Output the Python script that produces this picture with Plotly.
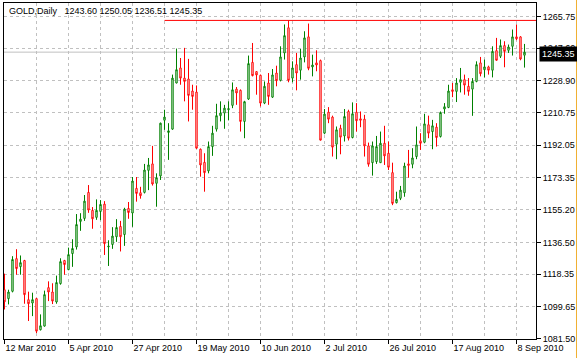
import pandas as pd
import plotly.graph_objects as go

# ---- data (GOLD, Daily) ----
start_date = "2010-03-12"
opens = [1109.4, 1104.3, 1108.5, 1127.2, 1122.6, 1126.1, 1103.7, 1101.8, 1104.3, 1086.5,
         1088.6, 1110.6, 1108.1, 1102.4, 1112.9, 1126.1, 1120.9, 1130.1, 1133.9, 1148.5,
         1150.2, 1165.1, 1154.8, 1150.8, 1154.2, 1158.4, 1133.9, 1135.3, 1139.7, 1145.6,
         1141.0, 1155.9, 1153.3, 1167.4, 1164.9, 1165.1, 1177.7, 1181.4, 1170.3, 1174.5,
         1206.4, 1199.4, 1201.3, 1227.7, 1236.3, 1230.5, 1230.0, 1223.1, 1222.5, 1189.8,
         1182.3, 1177.4, 1191.3, 1201.3, 1209.0, 1210.5, 1212.4, 1214.9, 1224.2, 1223.5,
         1205.7, 1218.5, 1239.5, 1234.2, 1232.1, 1216.2, 1227.7, 1219.6, 1233.4, 1229.2,
         1244.9, 1259.3, 1230.5, 1238.2, 1235.0, 1242.6, 1254.1, 1236.9, 1239.2, 1240.5,
         1199.0, 1211.0, 1208.2, 1192.7, 1201.8, 1197.4, 1211.4, 1196.5, 1211.0, 1207.2,
         1207.0, 1191.7, 1182.1, 1182.7, 1182.1, 1193.2, 1187.5, 1176.4, 1159.2, 1161.7,
         1164.9, 1181.4, 1181.2, 1185.6, 1194.6, 1193.8, 1203.8, 1199.9, 1202.4, 1197.1,
         1212.8, 1213.7, 1223.8, 1222.9, 1228.1, 1229.6, 1225.8, 1224.2, 1228.6, 1239.2,
         1235.3, 1236.9, 1235.0, 1246.2, 1243.0, 1249.1, 1246.4, 1248.7, 1254.1, 1254.1,
         1243.60]
highs = [1118.6, 1109.4, 1128.6, 1132.6, 1129.0, 1126.5, 1108.3, 1107.7, 1104.7, 1095.3,
         1108.9, 1114.2, 1113.1, 1117.5, 1127.4, 1126.5, 1133.5, 1138.3, 1152.7, 1153.2,
         1163.6, 1169.3, 1156.7, 1161.1, 1160.7, 1160.1, 1137.7, 1145.2, 1149.8, 1148.8,
         1156.3, 1159.6, 1173.9, 1173.9, 1168.3, 1181.4, 1184.8, 1191.7, 1176.0, 1205.0,
         1212.4, 1204.7, 1232.5, 1247.4, 1242.0, 1247.8, 1241.5, 1226.7, 1226.3, 1190.2,
         1187.5, 1194.2, 1203.2, 1215.8, 1217.2, 1215.2, 1217.2, 1228.0, 1225.4, 1224.0,
         1217.5, 1243.4, 1250.6, 1234.5, 1232.5, 1228.6, 1233.4, 1235.7, 1237.6, 1248.7,
         1261.2, 1263.5, 1240.1, 1244.9, 1247.2, 1257.3, 1261.7, 1243.9, 1246.4, 1241.1,
         1212.8, 1213.9, 1209.0, 1202.8, 1203.8, 1212.8, 1212.4, 1216.6, 1216.2, 1211.4,
         1209.5, 1193.6, 1194.2, 1197.4, 1199.9, 1203.2, 1194.2, 1182.1, 1165.5, 1168.8,
         1182.1, 1189.4, 1190.4, 1202.8, 1199.0, 1210.1, 1209.0, 1206.6, 1204.7, 1211.4,
         1216.2, 1226.7, 1227.7, 1230.5, 1236.3, 1232.5, 1230.5, 1230.5, 1240.1, 1242.6,
         1241.1, 1237.6, 1248.7, 1253.5, 1252.6, 1251.6, 1249.7, 1258.3, 1261.2, 1254.5,
         1250.05]
lows = [1098.1, 1101.0, 1107.9, 1118.0, 1118.0, 1101.4, 1091.5, 1094.3, 1084.6, 1086.1,
        1088.3, 1102.9, 1101.2, 1101.4, 1112.3, 1118.0, 1120.6, 1122.5, 1132.4, 1143.1,
        1148.8, 1153.4, 1144.3, 1149.4, 1149.2, 1129.3, 1123.0, 1132.8, 1136.8, 1131.3,
        1134.5, 1150.0, 1145.4, 1159.8, 1161.5, 1164.5, 1166.4, 1169.0, 1156.9, 1172.2,
        1200.9, 1183.7, 1200.9, 1227.5, 1226.7, 1217.2, 1205.7, 1212.4, 1190.0, 1174.1,
        1165.5, 1176.0, 1186.0, 1199.9, 1205.7, 1201.5, 1206.3, 1213.3, 1215.2, 1199.9,
        1196.1, 1218.0, 1231.5, 1221.0, 1214.3, 1215.6, 1215.2, 1219.1, 1225.8, 1228.6,
        1241.1, 1228.1, 1228.1, 1223.5, 1229.6, 1239.5, 1235.0, 1231.5, 1234.4, 1194.8,
        1198.4, 1204.7, 1185.6, 1184.1, 1186.9, 1194.2, 1194.8, 1196.0, 1199.9, 1202.4,
        1185.6, 1179.8, 1174.7, 1181.4, 1182.0, 1180.8, 1177.9, 1157.8, 1158.8, 1160.7,
        1162.6, 1173.5, 1178.9, 1184.1, 1189.4, 1193.2, 1196.1, 1189.8, 1191.3, 1196.5,
        1210.1, 1213.3, 1219.6, 1216.8, 1222.3, 1221.0, 1220.4, 1208.9, 1228.1, 1231.5,
        1230.9, 1232.5, 1230.9, 1240.5, 1242.0, 1236.7, 1244.9, 1243.4, 1252.2, 1240.7,
        1236.51]
closes = [1102.5, 1108.1, 1126.7, 1121.5, 1124.9, 1106.6, 1101.4, 1103.7, 1085.7, 1088.8,
          1106.6, 1108.1, 1102.9, 1113.5, 1125.5, 1123.8, 1129.5, 1133.0, 1146.7, 1149.8,
          1160.1, 1155.0, 1150.0, 1154.8, 1158.2, 1135.8, 1134.3, 1140.1, 1145.0, 1139.7,
          1155.5, 1153.6, 1171.6, 1164.5, 1163.2, 1177.9, 1180.8, 1169.9, 1173.5, 1204.7,
          1208.2, 1200.3, 1230.5, 1235.3, 1230.5, 1228.6, 1220.6, 1220.0, 1190.4, 1180.8,
          1176.4, 1191.3, 1199.0, 1209.0, 1210.5, 1213.3, 1213.0, 1223.8, 1222.0, 1205.7,
          1217.0, 1238.8, 1231.9, 1232.3, 1216.2, 1225.8, 1220.0, 1232.3, 1229.0, 1242.6,
          1254.8, 1229.2, 1236.3, 1233.4, 1242.0, 1253.5, 1236.1, 1238.0, 1238.0, 1195.0,
          1209.9, 1207.0, 1191.0, 1200.9, 1196.7, 1208.5, 1196.1, 1210.1, 1206.1, 1206.4,
          1191.7, 1181.2, 1191.7, 1191.3, 1193.2, 1186.0, 1179.5, 1158.8, 1161.1, 1166.4,
          1180.2, 1180.6, 1184.8, 1192.3, 1193.2, 1204.3, 1199.0, 1203.2, 1196.5, 1210.8,
          1214.1, 1223.1, 1222.9, 1227.7, 1229.6, 1226.5, 1222.9, 1228.6, 1238.2, 1233.0,
          1236.9, 1235.0, 1245.8, 1240.7, 1249.1, 1245.8, 1248.3, 1254.1, 1253.0, 1241.4,
          1245.35]

tick_dates = ["2010-03-12", "2010-04-05", "2010-04-27", "2010-05-19", "2010-06-10",
              "2010-07-02", "2010-07-26", "2010-08-17", "2010-09-08"]
tick_labels = ["12 Mar 2010", "5 Apr 2010", "27 Apr 2010", "19 May 2010", "10 Jun 2010",
               "2 Jul 2010", "26 Jul 2010", "17 Aug 2010", "8 Sep 2010"]
price_ticks = [1081.50, 1099.65, 1118.35, 1136.50, 1155.20, 1173.35, 1192.05,
               1210.75, 1228.90, 1247.60, 1265.75]
level_line = 1263.5
level_start_date = "2010-05-07"
header_symbol = "GOLD,Daily"

# ---- derived ----
n = len(opens)
dates = [d.strftime("%Y-%m-%d") for d in pd.bdate_range(start_date, periods=n)]
xs = list(range(n))
tickvals = [dates.index(d) for d in tick_dates]
last_o, last_h, last_l, last_c = opens[-1], highs[-1], lows[-1], closes[-1]

GREEN = "#008000"
RED = "#ff0000"
GRID = "#c0c0c0"
FONT = "Liberation Sans"

fig = go.Figure()
fig.add_trace(go.Candlestick(
    x=xs, open=opens, high=highs, low=lows, close=closes,
    increasing=dict(line=dict(color=GREEN, width=1), fillcolor="white"),
    decreasing=dict(line=dict(color=RED, width=1), fillcolor="white"),
    whiskerwidth=0, hoverinfo="skip", showlegend=False,
))

# current price line
fig.add_shape(type="line", xref="paper", x0=0, x1=1, yref="y", y0=last_c, y1=last_c,
              line=dict(color=GRID, width=1), layer="below")
# horizontal level line
fig.add_shape(type="line", xref="x", x0=dates.index(level_start_date), x1=n + 5,
              yref="y", y0=level_line, y1=level_line, line=dict(color=RED, width=1))
# window edge line
fig.add_shape(type="line", xref="paper", x0=1.0761, x1=1.0761, yref="paper",
              y0=-0.06, y1=1.02, line=dict(color="#f0b030", width=1))

# header
fig.add_annotation(xref="paper", yref="paper", x=0.006, y=0.976, xanchor="left",
                   yanchor="middle", showarrow=False,
                   text=f"{header_symbol}&nbsp;&nbsp;&nbsp;{last_o:.2f} {last_h:.2f} {last_l:.2f} {last_c:.2f}",
                   font=dict(family=FONT, size=9, color="black"))
# current price label
fig.add_annotation(xref="paper", yref="y", x=1.0056, y=last_c, xanchor="left",
                   yanchor="middle", showarrow=False, text=f"{last_c:.2f}",
                   bgcolor="black", borderpad=2, yshift=-1.5,
                   font=dict(family=FONT, size=9, color="white"))

fig.update_layout(
    width=577, height=358, autosize=False,
    margin=dict(l=4, r=41, t=3, b=19, pad=0),
    paper_bgcolor="white", plot_bgcolor="white",
    font=dict(family=FONT, size=9, color="black"),
    boxgap=0.5,
    xaxis=dict(
        range=[-0.125, 132.875], rangeslider=dict(visible=False),
        tickmode="array", tickvals=tickvals, ticktext=tick_labels,
        ticklabelposition="outside right",
        ticks="outside", ticklen=4, tickcolor="black",
        showgrid=True, gridcolor=GRID, griddash="3px,3px", gridwidth=1,
        minor=dict(tick0=0, dtick=8, showgrid=True, gridcolor=GRID,
                   griddash="3px,3px", ticks=""),
        showline=True, linecolor="black", linewidth=1, mirror=True,
        zeroline=False, fixedrange=True,
        tickfont=dict(family=FONT, size=9, color="black"),
    ),
    yaxis=dict(
        side="right", range=[1081.21, 1273.47],
        tickmode="array", tickvals=price_ticks,
        ticktext=[f"{v:.2f}" for v in price_ticks],
        ticks="outside", ticklen=4, tickcolor="black",
        showgrid=True, gridcolor=GRID, griddash="3px,3px", gridwidth=1,
        showline=True, linecolor="black", linewidth=1, mirror=True,
        zeroline=False, fixedrange=True,
        tickfont=dict(family=FONT, size=9, color="black"),
    ),
)

fig.write_html("out.html", post_script="document.body.style.margin='0';",
               config={"displayModeBar": False})
